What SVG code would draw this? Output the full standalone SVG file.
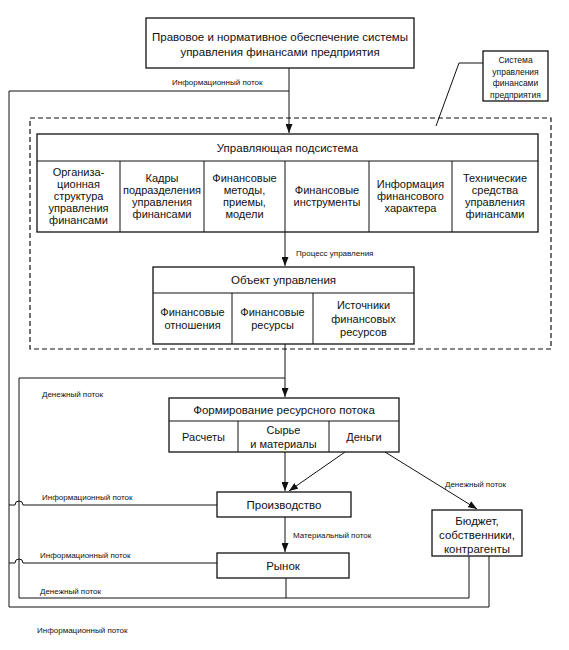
<svg xmlns="http://www.w3.org/2000/svg" width="569" height="650" viewBox="0 0 569 650">
<style>
.bx{fill:#fff;stroke:#111;stroke-width:1.3}
.ln{fill:none;stroke:#111;stroke-width:1}
.dl{fill:none;stroke:#111;stroke-width:1.2;stroke-dasharray:5 3}
text{font-family:"Liberation Sans",Arial,sans-serif;fill:#111}
.t{font-size:11px;text-anchor:middle}
.h{font-size:11.5px;text-anchor:middle}
.s{font-size:8px}
.m{font-size:8.5px;text-anchor:middle}
</style>
<defs>
<marker id="ar" markerUnits="userSpaceOnUse" markerWidth="9" markerHeight="7" refX="9" refY="3.5" orient="auto">
<path d="M0,0 L9,3.5 L0,7 z" fill="#111"/>
</marker>
</defs>
<rect width="569" height="650" fill="#fff"/>

<g id="connectors">
<path class="ln" d="M289,68 V133" marker-end="url(#ar)"/>
<path class="ln" d="M289,91 H9 V607 H489 V556"/>
<path class="ln" d="M285,232 V266" marker-end="url(#ar)"/>
<path class="ln" d="M285,344 V397" marker-end="url(#ar)"/>
<path class="ln" d="M285,378 H19 V598 H469 V556"/>
<path class="ln" d="M286,578 V598"/>
<path class="ln" d="M217,505 H23 A4,4 0 0 0 15,505 H9"/>
<path class="ln" d="M217,563 H23 A4,4 0 0 0 15,563 H9"/>
<path class="ln" d="M285,452 V491" marker-end="url(#ar)"/>
<path class="ln" d="M345,452 L289,491" marker-end="url(#ar)"/>
<path class="ln" d="M385,452 L477,509" marker-end="url(#ar)"/>
<path class="ln" d="M285,517 V552" marker-end="url(#ar)"/>
<path class="ln" d="M483,63 H459 L436,126"/>
<text class="s" x="172" y="85">Информационный поток</text>
<text class="s" x="296" y="256">Процесс управления</text>
<text class="s" x="42" y="397">Денежный поток</text>
<text class="s" x="445" y="487">Денежный поток</text>
<text class="s" x="293" y="538">Материальный поток</text>
<text class="s" x="42" y="500">Информационный поток</text>
<text class="s" x="40" y="558">Информационный поток</text>
<text class="s" x="40" y="594">Денежный поток</text>
<text class="s" x="37" y="633">Информационный поток</text>
</g>

<g id="system-boundary">
<rect class="dl" x="30" y="118" width="521" height="231"/>
</g>

<g id="legal">
<rect class="bx" x="146" y="18" width="268" height="50" stroke-width="1.6"/>
<text class="h" x="280" y="41">Правовое и нормативное обеспечение системы</text>
<text class="h" x="280" y="56">управления финансами предприятия</text>
</g>

<g id="system-label">
<rect class="bx" x="483" y="51" width="65" height="50"/>
<text class="m" x="515.5" y="63">Система</text>
<text class="m" x="515.5" y="74.5">управления</text>
<text class="m" x="515.5" y="86">финансами</text>
<text class="m" x="515.5" y="97.5">предприятия</text>
</g>

<g id="subsystem">
<rect class="bx" x="37" y="134" width="501" height="98"/>
<path class="ln" d="M37,161 H538 M120,161 V232 M204,161 V232 M285,161 V232 M369,161 V232 M452,161 V232" stroke-width="1.2"/>
<text class="h" x="287.5" y="151.5">Управляющая подсистема</text>
<text class="t" x="78.5"><tspan x="78.5" y="175.5">Организа-</tspan><tspan x="78.5" y="187.5">ционная</tspan><tspan x="78.5" y="199.5">структура</tspan><tspan x="78.5" y="211.5">управления</tspan><tspan x="78.5" y="223.5">финансами</tspan></text>
<text class="t"><tspan x="162" y="182">Кадры</tspan><tspan x="162" y="194">подразделения</tspan><tspan x="162" y="206">управления</tspan><tspan x="162" y="218">финансами</tspan></text>
<text class="t"><tspan x="244.5" y="182">Финансовые</tspan><tspan x="244.5" y="194">методы,</tspan><tspan x="244.5" y="206">приемы,</tspan><tspan x="244.5" y="218">модели</tspan></text>
<text class="t"><tspan x="327" y="194">Финансовые</tspan><tspan x="327" y="206">инструменты</tspan></text>
<text class="t"><tspan x="410.5" y="188">Информация</tspan><tspan x="410.5" y="200">финансового</tspan><tspan x="410.5" y="212">характера</tspan></text>
<text class="t"><tspan x="495" y="182">Технические</tspan><tspan x="495" y="194">средства</tspan><tspan x="495" y="206">управления</tspan><tspan x="495" y="218">финансами</tspan></text>
</g>

<g id="object">
<rect class="bx" x="153" y="267" width="261" height="77"/>
<path class="ln" d="M153,293 H414 M232,293 V344 M313,293 V344" stroke-width="1.2"/>
<text class="h" x="283.5" y="284">Объект управления</text>
<text class="t"><tspan x="192.5" y="316">Финансовые</tspan><tspan x="192.5" y="329">отношения</tspan></text>
<text class="t"><tspan x="272.5" y="316">Финансовые</tspan><tspan x="272.5" y="329">ресурсы</tspan></text>
<text class="t"><tspan x="363.5" y="309">Источники</tspan><tspan x="363.5" y="322.5">финансовых</tspan><tspan x="363.5" y="336">ресурсов</tspan></text>
</g>

<g id="resource-flow">
<rect class="bx" x="169" y="398" width="230" height="54"/>
<path class="ln" d="M169,421 H399 M238,421 V452 M329,421 V452" stroke-width="1.2"/>
<text class="h" x="284" y="413.5">Формирование ресурсного потока</text>
<text class="t" x="203.5" y="440.5">Расчеты</text>
<text class="t"><tspan x="283.5" y="434">Сырье</tspan><tspan x="283.5" y="448">и материалы</tspan></text>
<text class="t" x="364" y="440.5">Деньги</text>
</g>

<g id="production">
<rect class="bx" x="217" y="492" width="134" height="25"/>
<text class="h" x="284" y="508.5">Производство</text>
</g>

<g id="market">
<rect class="bx" x="217" y="553" width="132" height="25"/>
<text class="h" x="283" y="569.5">Рынок</text>
</g>

<g id="budget">
<rect class="bx" x="432" y="510" width="90" height="46"/>
<text class="h"><tspan x="477" y="525">Бюджет,</tspan><tspan x="477" y="539">собственники,</tspan><tspan x="477" y="553">контрагенты</tspan></text>
</g>
</svg>
